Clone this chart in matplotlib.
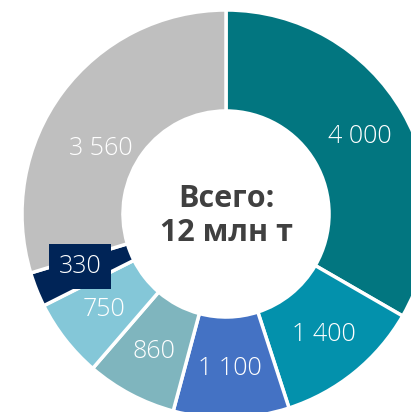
import matplotlib
matplotlib.use('Agg')
import matplotlib.pyplot as plt
import numpy as np

values = [4000, 1400, 1100, 860, 750, 330, 3560]
labels = ['4 000', '1 400', '1 100', '860', '750', '330', '3 560']
colors = ['#027680', '#0391AC', '#4472C4', '#7FB5BE', '#84C7D8', '#002457', '#BFBFBF']
center_text = 'Всего:\n12 млн т'

W, H = 411, 412
cx, cy, r_px = 226, 214, 204

fig = plt.figure(figsize=(W / 100, H / 100), dpi=100)
ax = fig.add_axes([0, 0, 1, 1])

ax.pie(values, colors=colors, startangle=90, counterclock=False, radius=1.0,
       wedgeprops=dict(width=0.495, edgecolor='white', linewidth=2.5))

ax.set_xlim(-cx / r_px, (W - cx) / r_px)
ax.set_ylim(-(H - cy) / r_px, cy / r_px)
ax.set_aspect('auto')
ax.axis('off')

# label positions along the ring middle
total = sum(values)
cum = np.cumsum([0] + values[:-1])
nudge = {6: 9, 5: -2}  # small angular shifts (deg)
for i, (v, c0) in enumerate(zip(values, cum)):
    ang = np.deg2rad(90 - (c0 + v / 2) / total * 360 + nudge.get(i, 0))
    rr = 0.76 if i != 6 else 0.69
    x, y = rr * np.cos(ang), rr * np.sin(ang)
    kw = {}
    if i == 5:
        kw['bbox'] = dict(boxstyle='square,pad=0.4', facecolor=colors[5], edgecolor='none')
    ax.text(x, y, labels[i], ha='center', va='center', color='white', fontsize=18,
            family='Open Sans', fontweight='light', **kw)

ax.text(0, -0.01, center_text, ha='center', va='center', color='#404040', fontsize=22,
        family='Open Sans', fontweight='bold', linespacing=1.2)

fig.savefig('out.png', dpi=100)
